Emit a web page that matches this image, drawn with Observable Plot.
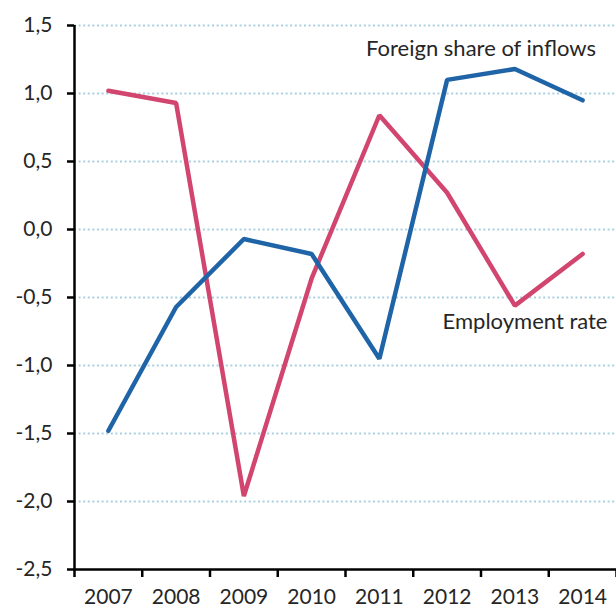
<!DOCTYPE html>
<html>
<head>
<meta charset="utf-8">
<script src="https://cdn.jsdelivr.net/npm/d3@7"></script>
<script src="https://cdn.jsdelivr.net/npm/@observablehq/plot@0.6"></script>
<style>
  html, body { margin: 0; padding: 0; background: #fff; }
  #chart svg { display: block; }
</style>
</head>
<body>
<div id="chart"></div>
<script>
const years = [2007, 2008, 2009, 2010, 2011, 2012, 2013, 2014];
const foreignShare = [-1.48, -0.57, -0.07, -0.18, -0.95, 1.10, 1.18, 0.95];
const employmentRate = [1.02, 0.93, -1.96, -0.36, 0.84, 0.27, -0.56, -0.18];
const yTicks = [-2.5, -2.0, -1.5, -1.0, -0.5, 0.0, 0.5, 1.0, 1.5];
const bandEdges = [2006.5, 2007.5, 2008.5, 2009.5, 2010.5, 2011.5, 2012.5, 2013.5, 2014.5];
const seriesLabels = [
  {text: "Foreign share of inflows", x: 2012.5, y: 1.33},
  {text: "Employment rate", x: 2013.15, y: -0.68}
];

const foreignData = years.map((yr, i) => ({year: yr, value: foreignShare[i]}));
const employmentData = years.map((yr, i) => ({year: yr, value: employmentRate[i]}));
const fmt = d => d.toFixed(1).replace(".", ",");

const font = "Lato, 'Open Sans', sans-serif";

const chart = Plot.plot({
  width: 616,
  height: 610,
  marginLeft: 74,
  marginRight: 0,
  marginTop: 25,
  marginBottom: 41,
  style: {fontFamily: font, fontSize: "21px", color: "#262626", background: "#fff"},
  x: {type: "linear", domain: [2006.5, 2014.5]},
  y: {domain: [-2.5, 1.5]},
  marks: [
    Plot.ruleY(yTicks.filter(d => d > -2.5), {stroke: "#a9cfe0", strokeWidth: 2, strokeDasharray: "2,2.6"}),
    Plot.axisY({ticks: yTicks, tickFormat: fmt, tickSize: 7, tickPadding: 15, stroke: "#000", strokeWidth: 2.5, strokeOpacity: 1, fontSize: 21, label: null}),
    Plot.axisX({ticks: bandEdges, tickFormat: () => "", tickSize: 8, stroke: "#000", strokeWidth: 2.5, strokeOpacity: 1, label: null}),
    Plot.axisX({ticks: years, tickFormat: d => String(d), tickSize: 0, tickPadding: 20, fontSize: 21, label: null}),
    Plot.ruleX([2006.5], {stroke: "#000", strokeWidth: 2.5}),
    Plot.ruleY([-2.5], {stroke: "#000", strokeWidth: 2.5}),
    Plot.line(employmentData, {x: "year", y: "value", stroke: "#d1456f", strokeWidth: 4.5, strokeLinejoin: "miter"}),
    Plot.line(foreignData, {x: "year", y: "value", stroke: "#1f64a6", strokeWidth: 4.5, strokeLinejoin: "miter"}),
    Plot.text(seriesLabels, {x: "x", y: "y", text: "text", fontSize: 22, fill: "#262626", textAnchor: "middle"})
  ]
});
document.getElementById("chart").appendChild(chart);
</script>
</body>
</html>
